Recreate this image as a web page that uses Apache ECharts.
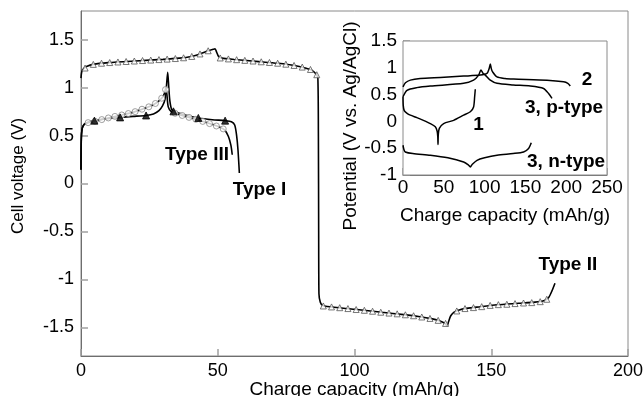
<!DOCTYPE html>
<html>
<head>
<meta charset="utf-8">
<script src="https://cdn.jsdelivr.net/npm/echarts@6/dist/echarts.min.js"></script>
<style>
  html, body { margin: 0; padding: 0; background: #fff; }
  #chart { width: 644px; height: 396px; }
</style>
</head>
<body>
<div id="chart"></div>
<script>
// ---- Main plot: cell voltage vs charge capacity ----
const typeIICurve = [
  [0,1.10],[0.3,1.17],[1,1.20],[2,1.22],[4.5,1.243],[10,1.261],[20,1.279],[30,1.295],[36,1.308],
  [40,1.323],[43.5,1.352],[46.5,1.385],[48.3,1.40],[49,1.406],[49.6,1.37],[50.3,1.325],[51.5,1.308],
  [56,1.294],[65,1.272],[72,1.254],[78,1.232],[82,1.205],[84.5,1.18],[86,1.14],[86.6,1.10],
  [86.8,0.5],[86.9,-0.5],[87.0,-1.15],[87.5,-1.24],[88.3,-1.272],[90,-1.283],[100,-1.313],
  [110,-1.344],[118,-1.368],[124,-1.39],[128,-1.41],[131,-1.432],[133,-1.458],[133.9,-1.485],
  [134.4,-1.44],[135.2,-1.38],[136.3,-1.345],[138,-1.322],[141,-1.303],[146,-1.286],[152,-1.266],
  [160,-1.25],[166,-1.238],[169.5,-1.22],[171,-1.19],[172.2,-1.12],[173.3,-1.04]
];
const typeIIMarks = [
  [1.5,1.205],[4.5,1.243],[7.5,1.255],[10.5,1.262],[13.5,1.268],[16.5,1.273],[19.5,1.278],[22.5,1.283],
  [25.5,1.288],[28.5,1.293],[31.5,1.298],[34.5,1.304],[37.5,1.312],[40.5,1.326],[43.5,1.352],[46.5,1.385],
  [50.9,1.31],[53.9,1.30],[56.9,1.292],[59.9,1.285],[62.9,1.278],[65.9,1.27],[68.9,1.263],[71.9,1.255],
  [74.9,1.245],[77.9,1.232],[80.9,1.215],[83.9,1.19],[86.2,1.135],
  [88.6,-1.278],[91.6,-1.288],[94.6,-1.296],[97.6,-1.305],[100.6,-1.315],[103.6,-1.323],[106.6,-1.333],
  [109.6,-1.343],[112.6,-1.352],[115.6,-1.36],[118.6,-1.37],[121.6,-1.38],[124.6,-1.393],[127.6,-1.408],
  [130.6,-1.428],[133.3,-1.46],
  [137.4,-1.33],[140.4,-1.305],[143.5,-1.295],[146.5,-1.285],[149.6,-1.272],[152.6,-1.264],[155.7,-1.26],
  [158.7,-1.253],[161.8,-1.247],[164.8,-1.243],[167.9,-1.233],[170.3,-1.208]
];
const typeICurve = [
  [0,0.14],[0.05,0.35],[0.2,0.52],[0.7,0.6],[2,0.635],[4.9,0.656],[9,0.675],[14.3,0.69],[19,0.70],
  [23.8,0.71],[26.5,0.725],[28.5,0.76],[29.8,0.81],[30.7,0.875],[31.2,1.0],[31.7,1.16],[32.1,1.0],
  [32.5,0.86],[33.2,0.77],[34.5,0.745],[38,0.715],[42.9,0.684],[48,0.666],[52.7,0.656],[55,0.645],
  [56.2,0.61],[56.9,0.5],[57.4,0.35],[57.9,0.11]
];
const typeIMarks = [[4.9,0.656],[14.3,0.69],[23.8,0.71],[33.8,0.753],[42.9,0.684],[52.7,0.656]];
const typeIIICurve = [
  [0,0.15],[0.05,0.4],[0.3,0.55],[1,0.61],[2.6,0.635],[5.1,0.65],[10,0.684],[15,0.715],[19.8,0.75],
  [24.8,0.80],[27.5,0.84],[29.5,0.89],[30.5,0.94],[31,1.0],[31.4,0.93],[31.9,0.80],[33,0.75],
  [34.4,0.733],[37,0.71],[42,0.67],[47,0.625],[50.5,0.59],[52.5,0.56],[53.9,0.49],[54.8,0.40],[55.3,0.30]
];
const typeIIIMarks = [
  [2.6,0.635],[5.1,0.65],[7.6,0.667],[10,0.684],[12.4,0.70],[14.9,0.715],[17.3,0.73],[19.8,0.75],
  [22.3,0.775],[24.8,0.80],[27.2,0.835],[29.5,0.89],[30.9,0.98],[34.4,0.733],[37,0.71],[39.5,0.69],
  [42,0.67],[44.5,0.648],[47,0.625],[49.5,0.60],[52,0.57]
];
const mainYTicks = [-1.5, -1, -0.5, 0, 0.5, 1, 1.5];
const mainLabels = [
  { text: 'Type III', at: [42.4, 0.30] },
  { text: 'Type I',   at: [65.3, -0.07] },
  { text: 'Type II',  at: [178, -0.85] }
];

// ---- Inset: electrode potential vs charge capacity ----
const inset1 = [
  [0,0.46],[0.3,0.3],[1.5,0.2],[5,0.15],[9,0.116],[17,0.07],[25,0.02],[33.5,-0.04],[39.6,-0.10],
  [41.8,-0.18],[42.6,-0.28],[42.9,-0.43],[43.3,-0.24],[44.5,-0.13],[49.8,-0.04],[62,0.02],
  [74.3,0.116],[82.5,0.18],[86.5,0.27],[87.8,0.46],[88.6,0.60]
];
const inset2 = [
  [0,0.645],[3,0.72],[9,0.77],[21,0.80],[45.7,0.82],[74.3,0.845],[94.7,0.864],[102.9,0.895],
  [105.5,0.98],[107,1.07],[108.3,0.98],[109.8,0.925],[115.2,0.83],[125,0.80],[135.5,0.79],
  [176.5,0.77],[196.8,0.74],[202,0.71],[205,0.66]
];
const inset3p = [
  [0,0.46],[4.9,0.58],[17,0.63],[33.5,0.66],[74.3,0.71],[86.5,0.77],[92.7,0.864],[95.5,0.96],
  [98,0.90],[100.9,0.864],[107,0.77],[115.2,0.71],[135,0.68],[156,0.66],[172.3,0.615],
  [178.4,0.52],[182.6,0.43]
];
const inset3n = [
  [0,-0.445],[1.2,-0.53],[2.8,-0.57],[12,-0.60],[33.5,-0.632],[55,-0.68],[74.3,-0.757],
  [80,-0.81],[82.5,-0.85],[85,-0.80],[90.7,-0.726],[100,-0.68],[115.2,-0.632],[135,-0.60],
  [147.8,-0.57],[153.9,-0.507],[157.2,-0.40]
];
const insetLabels = [
  { text: '2',         at: [225.5, 0.77] },
  { text: '3, p-type', at: [197.4, 0.25] },
  { text: '1',         at: [92.7, -0.07] },
  { text: '3, n-type', at: [199.9, -0.76] }
];

const FONT = '"Liberation Sans", Arial, Helvetica, sans-serif';
const AXIS_GREY = '#6e6e6e';
const TICK_GREY = '#a0a0a0';

const chart = echarts.init(document.getElementById('chart'), null, { renderer: 'canvas' });

function lineSeries(data, xi, yi, width) {
  return {
    type: 'line', xAxisIndex: xi, yAxisIndex: yi, data: data,
    smooth: 0.25, showSymbol: false, silent: true, animation: false,
    lineStyle: { color: '#000', width: width }, z: 3
  };
}
function markSeries(data, symbol, size, fill, border) {
  return {
    type: 'scatter', xAxisIndex: 0, yAxisIndex: 0, data: data,
    symbol: symbol, symbolSize: size, silent: true, animation: false,
    itemStyle: { color: fill, borderColor: border, borderWidth: 1 }, z: 4
  };
}

const axisCommon = {
  axisLine: { show: true, onZero: false, lineStyle: { color: AXIS_GREY, width: 1 } },
  axisTick: { show: true, inside: true, length: 7, lineStyle: { color: TICK_GREY, width: 1.5 } },
  splitLine: { show: false },
  axisLabel: { color: '#000', fontSize: 18, fontFamily: FONT }
};

chart.setOption({
  animation: false,
  backgroundColor: '#fff',
  grid: [
    { left: 81, top: 11, right: 16, bottom: 40, show: true, borderColor: '#8a8a8a', borderWidth: 1,
      backgroundColor: 'transparent', outerBoundsMode: 'none', containLabel: false },
    { left: 403, top: 41, right: 37, bottom: 221, show: true, borderColor: '#8a8a8a', borderWidth: 1,
      backgroundColor: '#fff', z: 5, outerBoundsMode: 'none', containLabel: false }
  ],
  xAxis: [
    Object.assign({}, axisCommon, {
      gridIndex: 0, type: 'value', min: 0, max: 200, interval: 50,
      name: 'Charge capacity (mAh/g)', nameLocation: 'middle', nameGap: 24, nameMoveOverlap: false,
      nameTextStyle: { color: '#000', fontSize: 19, fontFamily: FONT },
      axisLabel: Object.assign({}, axisCommon.axisLabel, { margin: 6 })
    }),
    Object.assign({}, axisCommon, {
      gridIndex: 1, type: 'value', min: 0, max: 250, interval: 50,
      name: 'Charge capacity (mAh/g)', nameLocation: 'middle', nameGap: 31,
      nameTextStyle: { color: '#000', fontSize: 19, fontFamily: FONT },
      axisLabel: Object.assign({}, axisCommon.axisLabel, { margin: 3, fontSize: 19 })
    })
  ],
  yAxis: [
    Object.assign({}, axisCommon, {
      gridIndex: 0, type: 'value', min: -1.8, max: 1.8,
      name: 'Cell voltage (V)', nameLocation: 'middle', nameGap: 54, nameMoveOverlap: false,
      nameTextStyle: { color: '#000', fontSize: 17, fontFamily: FONT, padding: [0, 0, 0, 15] },
      axisTick: Object.assign({}, axisCommon.axisTick, { customValues: mainYTicks }),
      axisLabel: Object.assign({}, axisCommon.axisLabel, { margin: 7, customValues: mainYTicks })
    }),
    Object.assign({}, axisCommon, {
      gridIndex: 1, type: 'value', min: -1, max: 1.5, interval: 0.5,
      name: 'Potential (V vs. Ag/AgCl)', nameLocation: 'middle', nameGap: 39,
      nameTextStyle: { color: '#000', fontSize: 19, fontFamily: FONT, padding: [0, 36, 0, 0] },
      axisLabel: Object.assign({}, axisCommon.axisLabel, { margin: 6, fontSize: 19 })
    })
  ],
  series: [
    markSeries(typeIIMarks, 'triangle', 6, '#fff', '#555'),
    markSeries(typeIIIMarks, 'circle', 6, '#fff', '#888'),
    markSeries(typeIMarks, 'triangle', 7, '#000', '#000'),
    lineSeries(typeIICurve, 0, 0, 1.6),
    lineSeries(typeIIICurve, 0, 0, 1.6),
    lineSeries(typeICurve, 0, 0, 1.6),
    Object.assign(lineSeries(inset1, 1, 1, 1.5), { z: 6 }),
    Object.assign(lineSeries(inset2, 1, 1, 1.5), { z: 6 }),
    Object.assign(lineSeries(inset3p, 1, 1, 1.5), { z: 6 }),
    Object.assign(lineSeries(inset3n, 1, 1, 1.5), { z: 6 })
  ]
});

// Curve annotations, placed in data coordinates of their own plot
function placeLabels(list, xi, yi) {
  return list.map(function (l) {
    const p = chart.convertToPixel({ xAxisIndex: xi, yAxisIndex: yi }, l.at);
    return {
      type: 'text', x: p[0], y: p[1], z: 20,
      style: {
        text: l.text, fill: '#000', font: 'bold 19px ' + FONT,
        textAlign: 'center', textVerticalAlign: 'middle', align: 'center', verticalAlign: 'middle'
      }
    };
  });
}
chart.setOption({
  graphic: placeLabels(mainLabels, 0, 0).concat(placeLabels(insetLabels, 1, 1))
});
</script>
</body>
</html>
